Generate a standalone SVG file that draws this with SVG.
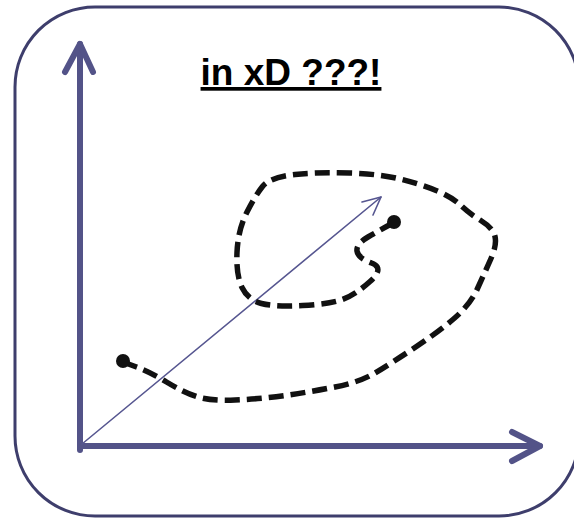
<svg xmlns="http://www.w3.org/2000/svg" width="574" height="518" viewBox="0 0 574 518">
<style>
.frame{fill:#fff;stroke:#3e3e6c;stroke-width:3}
.axis{fill:none;stroke:#535388;stroke-width:6;stroke-linecap:round;stroke-linejoin:round}
.vec{fill:none;stroke:#565690;stroke-width:1.6;stroke-linecap:round;stroke-linejoin:round}
.path{fill:none;stroke:#111;stroke-width:5.5;stroke-dasharray:15 7}
.dot{fill:#111}
.title{font-family:"Liberation Sans",Arial,sans-serif;font-weight:bold;font-size:37px;fill:#000;text-decoration:underline}
</style>
<rect width="574" height="518" fill="#fff"/>
<g id="frame"><rect class="frame" x="15" y="7" width="564" height="509" rx="80" ry="80"/></g>
<g id="title"><text class="title" x="291" y="85" text-anchor="middle">in xD ???!</text></g>
<g id="connectors">
<g id="y-axis"><path class="axis" d="M80,450 L80,44"/><path class="axis" d="M65,72 L80,44 L93,72"/></g>
<g id="x-axis"><path class="axis" d="M82,446 L540,446"/><path class="axis" d="M512,432 L540,446 L512,461"/></g>
<g id="vector"><path class="vec" d="M82,444 L381,197"/><path class="vec" d="M362,202 L381,197 L373,215"/></g>
<g id="trajectory">
<path class="path" d="M123,362 L136.5,367 Q150,372 166.5,382 Q183,392 196.5,396.5 Q210,401 235,400 Q260,399 285,395.5 Q310,392 335,387 Q360,382 375,373 Q390,364 413.5,348.5 Q437,333 453.5,319 Q470,305 477.5,288.5 Q485,272 491,258.5 Q497,245 495,236.5 Q493,228 481.5,221 Q470,214 461,205.5 Q452,197 436,190.5 Q420,184 400,179 Q380,174 350,173 Q320,172 295,174.5 Q270,177 262.5,186.5 Q255,196 246.5,213 Q238,230 237,252.5 Q236,275 242,287.5 Q248,300 261.5,303.5 Q275,307 302.5,305.5 Q330,304 342.5,299.5 Q355,295 370,281.5 Q385,268 371.5,263 Q358,258 357,251 Q356,244 368,237 Q380,230 393,223"/>
<circle class="dot" cx="123" cy="361" r="7"/>
<circle class="dot" cx="394" cy="222" r="7"/>
</g>
</g>
</svg>
